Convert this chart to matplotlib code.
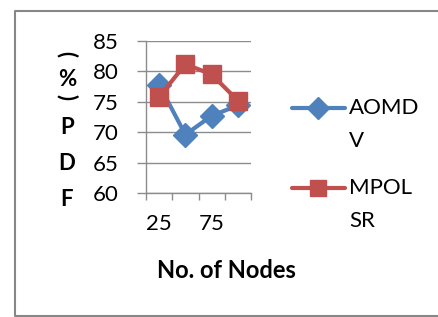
import numpy as np
import matplotlib.pyplot as plt

# data
nodes = [25, 50, 75, 100]
aomdv = [77.8, 69.6, 72.7, 74.4]
mpolsr = [75.8, 81.2, 79.5, 75.2]
tick_labels = ["25", "75"]
series_names = [["AOMD", "V"], ["MPOL", "SR"]]

blue = "#4F81BD"
red = "#C0504D"
grid_grey = "#8C8C8C"
font = "Lato"
fs = 16

W, H = 438, 317
fig = plt.figure(figsize=(W / 100, H / 100), dpi=100)

# outer chart border: top, left and bottom only (right side is off the image)
bx = [W + 5, 14.5, 14.5, W + 5]
by = [11, 11, 315.5, 315.5]
fig.lines.append(plt.Line2D([v / W for v in bx], [1 - v / H for v in by],
                            transform=fig.transFigure, color="#878787",
                            linewidth=1.5))

ax = fig.add_axes([146 / W, 1 - 193 / H, (251 - 146) / W, (193 - 41) / H])
x = np.arange(1, len(nodes) + 1)

ax.plot(x, aomdv, color=blue, linewidth=3, marker="D", markersize=12.5,
        zorder=3, clip_on=False)
ax.plot(x, mpolsr, color=red, linewidth=3, marker="s", markersize=13,
        zorder=4, clip_on=False)

ax.set_xlim(0.5, 4.5)
ax.set_ylim(60, 85)
ax.set_yticks(np.arange(60, 86, 5))
ax.yaxis.grid(True, color=grid_grey, linewidth=1)
ax.set_axisbelow(True)

# category boundaries as major ticks, labels on every other category
ax.set_xticks(np.arange(0.5, 4.6, 1))
ax.set_xticklabels([])
ax.set_xticks([1, 3], minor=True)
ax.set_xticklabels(tick_labels, minor=True)
ax.tick_params(axis="x", which="major", length=5, width=1, color=grid_grey,
               direction="out")
ax.tick_params(axis="x", which="minor", length=0, pad=15)
ax.tick_params(axis="y", length=6.5, width=1, color=grid_grey, pad=13)

for lbl in ax.get_xticklabels(minor=True) + ax.get_yticklabels():
    lbl.set_fontfamily(font)
    lbl.set_fontsize(fs)

for s in ["top", "right"]:
    ax.spines[s].set_visible(False)
for s in ["left", "bottom"]:
    ax.spines[s].set_color(grid_grey)
    ax.spines[s].set_linewidth(1)

# x axis title
fig.text(226 / W, 1 - 270 / H, "No. of Nodes", ha="center", va="center",
         fontsize=17, fontweight="bold", family=font)

# stacked y axis title
stack = [("(", 54, -90), ("%", 80, 0), (")", 97, -90),
         ("P", 128, 0), ("D", 163, 0), ("F", 199, 0)]
for ch, yy, rot in stack:
    fig.text(67 / W, 1 - yy / H, ch, ha="center", va="center", rotation=rot,
             fontsize=fs, fontweight="bold", family=font)

# legend drawn by hand to match the wrapped entries
leg_y = [108, 188]
leg_style = [(blue, "D", 11), (red, "s", 12)]
for name, yy, (c, m, ms) in zip(series_names, leg_y, leg_style):
    fig.lines.append(plt.Line2D([292 / W, 345 / W], [1 - yy / H] * 2,
                                transform=fig.transFigure, color=c,
                                linewidth=3, solid_capstyle="round"))
    fig.lines.append(plt.Line2D([318 / W], [1 - yy / H],
                                transform=fig.transFigure, color=c,
                                marker=m, markersize=ms, linestyle="none"))
    for k, part in enumerate(name):
        fig.text(349 / W, 1 - (yy + 33 * k) / H, part, ha="left", va="center",
                 fontsize=fs, family=font)

fig.savefig("out.png", dpi=100)
